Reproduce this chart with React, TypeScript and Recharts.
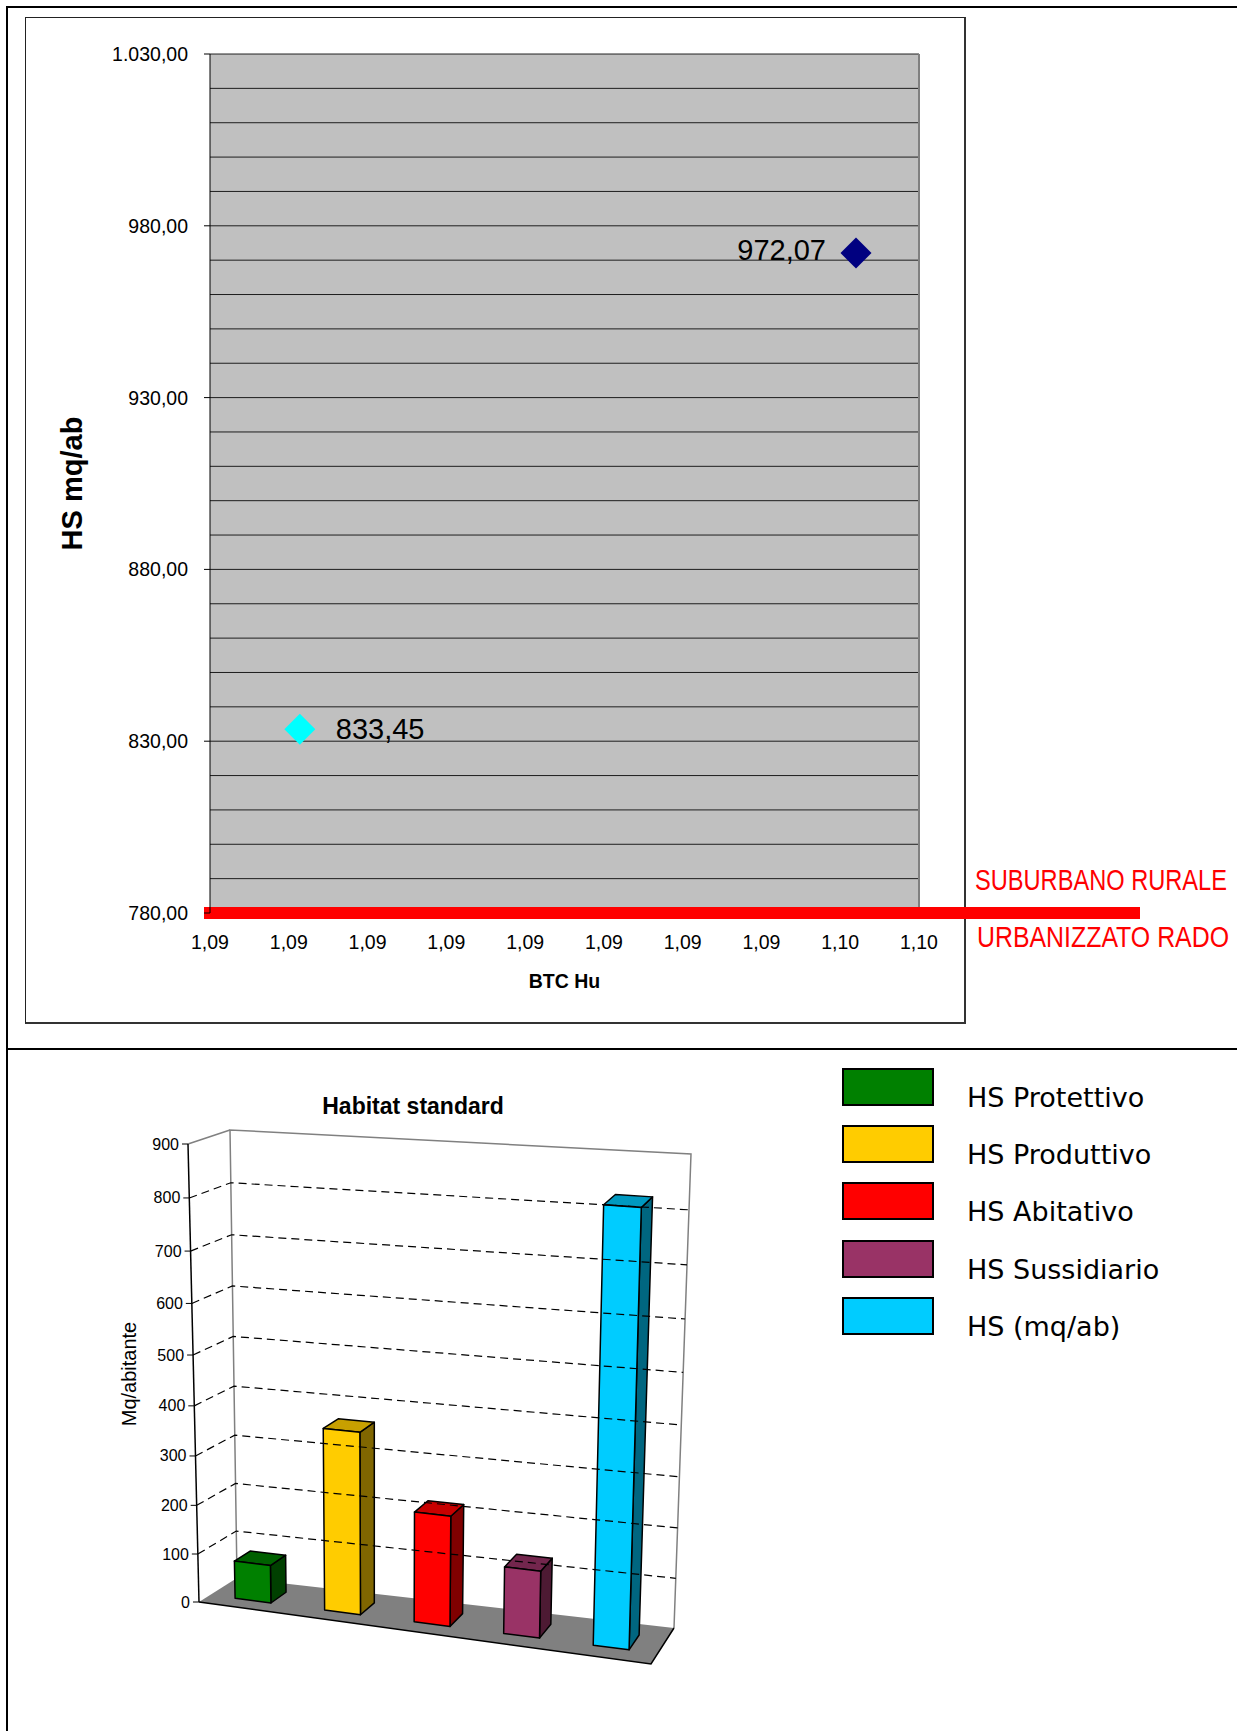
import React from "react";
import {
  Bar,
  BarChart,
  CartesianGrid,
  Label,
  Legend,
  ReferenceArea,
  ReferenceLine,
  Scatter,
  ScatterChart,
  XAxis,
  YAxis,
} from "recharts";

/* ---------- top chart: BTC Hu vs HS (mq/ab) ---------- */
const btcHuValues = [1.09157, 1.0951];
const hsPointValues = [833.45, 972.07];
const pointColors = ["#00FFFF", "#000080"];

const xTicks = [1.091, 1.0915, 1.092, 1.0925, 1.093, 1.0935, 1.094, 1.0945, 1.095, 1.0955];
const xTickLabels = ["1,09", "1,09", "1,09", "1,09", "1,09", "1,09", "1,09", "1,09", "1,10", "1,10"];

const yGridTicks = [
  780, 790, 800, 810, 820, 830, 840, 850, 860, 870, 880, 890, 900, 910, 920, 930, 940, 950, 960,
  970, 980, 990, 1000, 1010, 1020, 1030,
];
const yLabelledTicks = [780, 830, 880, 930, 980, 1030];
const yTickLabels = ["780,00", "830,00", "880,00", "930,00", "980,00", "1.030,00"];

const hsThreshold = 780;
const thresholdLabels = ["SUBURBANO RURALE", "URBANIZZATO RADO"];

/* ---------- bottom chart: Habitat standard ---------- */
const hsCategories = ["HS Protettivo", "HS Produttivo", "HS Abitativo", "HS Sussidiario", "HS (mq/ab)"];
const hsValues = [78, 368, 222, 134, 833.45];
const hsTicks = [0, 100, 200, 300, 400, 500, 600, 700, 800, 900];

const frontColors = ["#008000", "#FFCC00", "#FF0000", "#993366", "#00CCFF"];
const topColors = ["#006000", "#C8A000", "#C80000", "#73264D", "#0099C0"];
const sideColors = ["#004000", "#806600", "#800000", "#4D1A33", "#006680"];

const FONT = "'Liberation Sans', Arial, sans-serif";

function fmtComma(v: number) {
  return v.toFixed(2).replace(".", ",");
}

function DiamondPoint(props: any) {
  const { cx, cy, fill, payload, side } = props;
  if (cx == null || cy == null) return <g />;
  const r = 15.5;
  const pts = `${cx},${cy - r} ${cx + r},${cy} ${cx},${cy + r} ${cx - r},${cy}`;
  const right = side === "right";
  return (
    <g>
      <polygon points={pts} fill={fill} />
      <text
        x={right ? cx + 36 : cx - 30}
        y={right ? cy : cy - 3}
        textAnchor={right ? "start" : "end"}
        dominantBaseline="central"
        fontSize={29}
        fill="#000"
        fontFamily={FONT}
      >
        {fmtComma(payload.y)}
      </text>
    </g>
  );
}

function HsTick(props: any) {
  const { x, y, payload } = props;
  const i = yLabelledTicks.indexOf(payload.value);
  if (i < 0) return <g />;
  return (
    <g>
      <line x1={x + 16} x2={x + 22} y1={y} y2={y} stroke="#000" />
      <text x={x} y={y} textAnchor="end" dominantBaseline="central" fontSize={19.5} fill="#000" fontFamily={FONT}>
        {yTickLabels[i]}
      </text>
    </g>
  );
}

// red threshold bar, runs out past the plot towards the zone labels
function ThresholdLine(props: any) {
  const { x1, y1, x2 } = props;
  const sx = 0.8;
  const txt = {
    x: 0,
    y: 0,
    dominantBaseline: "central" as const,
    fontSize: 30,
    fill: "#FF0000",
    fontFamily: FONT,
    textLength: 252 / sx,
    lengthAdjust: "spacingAndGlyphs" as const,
  };
  return (
    <g>
      <line x1={x1 - 6} x2={x2 + 221} y1={y1} y2={y1} stroke="#FF0000" strokeWidth={12} />
      <g transform={`translate(${x2 + 56}, ${y1 - 33}) scale(${sx}, 1)`}>
        <text {...txt}>{thresholdLabels[0]}</text>
      </g>
      <g transform={`translate(${x2 + 58}, ${y1 + 24}) scale(${sx}, 1)`}>
        <text {...txt}>{thresholdLabels[1]}</text>
      </g>
    </g>
  );
}

/* ---------- fake 3D projection for the column chart ---------- */
type Pt = [number, number];
// flat plot area used by recharts scales
const PL = 200;
const PT = 100;
const PW = 537;
const PH = 481;
// screen corners of the 3D box (chart-local)
const C: Record<string, Pt> = {
  flb: [199, 552],
  flt: [188, 94],
  frb: [651, 614],
  frt: [665, 129],
  blb: [237, 528],
  blt: [230, 80],
  brb: [674, 578],
  brt: [691, 104],
};
const lerp = (a: Pt, b: Pt, k: number): Pt => [a[0] + (b[0] - a[0]) * k, a[1] + (b[1] - a[1]) * k];
// slight perspective squeeze: value steps shrink towards the bottom
const persp = (t: number) => t / (1 + 0.068 * (1 - t));
function project(u: number, t: number, d: number): Pt {
  const k = persp(t);
  const front = lerp(lerp(C.flb, C.frb, u), lerp(C.flt, C.frt, u), k);
  const back = lerp(lerp(C.blb, C.brb, u), lerp(C.blt, C.brt, u), k);
  return lerp(front, back, d);
}
const flatU = (px: number) => (px - PL) / PW;
const flatT = (py: number) => (PT + PH - py) / PH;
const poly = (pts: Pt[]) => pts.map((p) => `${p[0]},${p[1]}`).join(" ");

function Column3D(props: any) {
  const { x, y, width, height, index } = props;
  if (x == null || width == null) return <g />;
  const u0 = flatU(x) - 0.004;
  const u1 = flatU(x + width) - 0.004;
  const t1 = flatT(y);
  const t0 = flatT(y + height);
  const d0 = 0.29;
  const d1 = 0.71;
  const front = [project(u0, t0, d0), project(u1, t0, d0), project(u1, t1, d0), project(u0, t1, d0)];
  const side = [project(u1, t0, d0), project(u1, t0, d1), project(u1, t1, d1), project(u1, t1, d0)];
  const top = [project(u0, t1, d0), project(u1, t1, d0), project(u1, t1, d1), project(u0, t1, d1)];
  return (
    <g stroke="#000" strokeWidth={1.5} strokeLinejoin="round">
      <polygon points={poly(side)} fill={sideColors[index]} />
      <polygon points={poly(top)} fill={topColors[index]} />
      <polygon points={poly(front)} fill={frontColors[index]} />
    </g>
  );
}

function Walls(props: any) {
  const { x, y, width, height } = props;
  if (x == null) return <g />;
  const u0 = flatU(x);
  const u1 = flatU(x + width);
  const tt = flatT(y);
  const tb = flatT(y + height);
  const floor = [project(u0, tb, 0), project(u1, tb, 0), project(u1, tb, 1), project(u0, tb, 1)];
  const back = [project(u0, tb, 1), project(u0, tt, 1), project(u1, tt, 1), project(u1, tb, 1)];
  return (
    <g>
      <polygon points={poly(floor)} fill="#808080" stroke="none" />
      <polyline points={poly(back)} fill="none" stroke="#808080" strokeWidth={1.5} />
      <polyline points={poly([project(u0, tt, 0), project(u0, tt, 1)])} fill="none" stroke="#808080" strokeWidth={1.5} />
      <polyline points={poly([floor[0], floor[1], floor[2]])} fill="none" stroke="#000" strokeWidth={1.5} />
      <polyline points={poly([project(u0, tb, 0), project(u0, tt, 0)])} fill="none" stroke="#000" strokeWidth={1.5} />
    </g>
  );
}

function HabitatTick(props: any) {
  const { y, payload } = props;
  const t = flatT(y);
  const a = project(0, t, 0);
  const v = payload.value;
  const dashed = v > hsTicks[0] && v < hsTicks[hsTicks.length - 1];
  return (
    <g>
      {dashed && (
        <polyline
          points={poly([a, project(0, t, 1), project(1, t, 1)])}
          fill="none"
          stroke="#000"
          strokeWidth={1.2}
          strokeDasharray="8 5"
        />
      )}
      <line x1={a[0] - 6} x2={a[0]} y1={a[1]} y2={a[1]} stroke="#000" />
      <text x={a[0] - 9} y={a[1]} textAnchor="end" dominantBaseline="central" fontSize={16} fill="#000" fontFamily={FONT}>
        {v}
      </text>
    </g>
  );
}

function HabitatLegend() {
  return (
    <div style={{ position: "relative", width: 390, height: 290 }}>
      {hsCategories.map((name, i) => (
        <div key={name} style={{ position: "absolute", left: 0, top: i * 57.2, height: 57, width: 390 }}>
          <div
            style={{
              position: "absolute",
              left: 0,
              top: 0,
              width: 92,
              height: 38,
              boxSizing: "border-box",
              border: "2px solid #000",
              background: frontColors[i],
            }}
          />
          <div
            style={{
              position: "absolute",
              left: 125,
              top: 29,
              transform: "translateY(-50%)",
              fontFamily: "'DejaVu Sans', sans-serif",
              fontSize: 27,
              color: "#000",
              whiteSpace: "nowrap",
              lineHeight: 1,
            }}
          >
            {name}
          </div>
        </div>
      ))}
    </div>
  );
}

export default function App() {
  const points = btcHuValues.map((x, i) => ({ x, y: hsPointValues[i] }));
  const columns = hsCategories.map((name, i) => ({ name, value: hsValues[i] }));

  return (
    <div style={{ position: "absolute", left: 0, top: 0, width: 1237, height: 1731, background: "#fff", fontFamily: FONT }}>
      {/* page frame */}
      <div style={{ position: "absolute", left: 6, top: 6, width: 1231, height: 2, background: "#000" }} />
      <div style={{ position: "absolute", left: 6, top: 6, width: 2, height: 1725, background: "#000" }} />
      <div style={{ position: "absolute", left: 6, top: 1048, width: 1231, height: 2, background: "#000" }} />
      {/* chart box */}
      <div
        style={{
          position: "absolute",
          left: 25,
          top: 17,
          width: 941,
          height: 1007,
          boxSizing: "border-box",
          borderTop: "1px solid #222",
          borderLeft: "1px solid #222",
          borderRight: "2px solid #333",
          borderBottom: "2px solid #333",
        }}
      />

      <div style={{ position: "absolute", left: 0, top: 0 }}>
        <ScatterChart width={1237} height={1040} margin={{ top: 54, right: 318, bottom: 47, left: 0 }}>
          <CartesianGrid vertical={false} stroke="#000" strokeOpacity={0.85} fill="#C0C0C0" fillOpacity={1} />
          <XAxis
            type="number"
            dataKey="x"
            domain={[xTicks[0], xTicks[xTicks.length - 1]]}
            ticks={xTicks}
            interval={0}
            tickFormatter={(_v: number, i: number) => xTickLabels[i]}
            axisLine={false}
            tickLine={false}
            tickSize={0}
            tickMargin={22}
            height={80}
            tick={{ fontSize: 19.5, fill: "#000", fontFamily: FONT }}
          >
            <Label
              content={(p: any) => (
                <text
                  x={p.viewBox.x + p.viewBox.width / 2}
                  y={p.viewBox.y + 68}
                  textAnchor="middle"
                  dominantBaseline="central"
                  fontSize={19.5}
                  fontWeight={700}
                  fill="#000"
                  fontFamily={FONT}
                >
                  BTC Hu
                </text>
              )}
            />
          </XAxis>
          <YAxis
            type="number"
            dataKey="y"
            domain={[yGridTicks[0], yGridTicks[yGridTicks.length - 1]]}
            ticks={yGridTicks}
            interval={0}
            width={210}
            tickSize={6}
            tickMargin={16}
            tickLine={false}
            axisLine={{ stroke: "#000" }}
            tick={<HsTick />}
          >
            <Label
              content={(p: any) => {
                const cy = p.viewBox.y + p.viewBox.height / 2;
                return (
                  <text
                    x={72}
                    y={cy}
                    transform={`rotate(-90, 72, ${cy})`}
                    textAnchor="middle"
                    dominantBaseline="central"
                    fontSize={29}
                    fontWeight={700}
                    fill="#000"
                    fontFamily={FONT}
                  >
                    HS mq/ab
                  </text>
                );
              }}
            />
          </YAxis>
          <ReferenceLine x={xTicks[xTicks.length - 1]} stroke="#808080" strokeWidth={2} />
          <ReferenceLine y={hsThreshold} ifOverflow="visible" shape={<ThresholdLine />} />
          {points.map((p, i) => (
            <Scatter
              key={i}
              data={[p]}
              fill={pointColors[i]}
              isAnimationActive={false}
              shape={(sp: any) => <DiamondPoint {...sp} side={i === 0 ? "right" : "left"} />}
            />
          ))}
        </ScatterChart>
      </div>

      {/* bottom panel */}
      <div
        style={{
          position: "absolute",
          left: 263,
          top: 1106,
          transform: "translate(0, -50%)",
          width: 300,
          textAlign: "center",
          fontSize: 23,
          fontWeight: 700,
          lineHeight: 1,
          color: "#000",
        }}
      >
        Habitat standard
      </div>
      <div style={{ position: "absolute", left: 0, top: 1050 }}>
        <BarChart
          width={1237}
          height={681}
          data={columns}
          margin={{ top: PT, right: 1237 - PL - PW, bottom: 681 - PT - PH, left: PL - 1 }}
          barCategoryGap="30%"
        >
          <ReferenceArea y1={hsTicks[0]} y2={hsTicks[hsTicks.length - 1]} ifOverflow="visible" shape={<Walls />} zIndex={-300} />
          <XAxis dataKey="name" hide />
          <YAxis
            type="number"
            domain={[hsTicks[0], hsTicks[hsTicks.length - 1]]}
            ticks={hsTicks}
            interval={0}
            width={1}
            axisLine={false}
            tickLine={false}
            tick={<HabitatTick />}
          >
            <Label
              content={() => (
                <text
                  x={129}
                  y={324}
                  transform="rotate(-90, 129, 324)"
                  textAnchor="middle"
                  dominantBaseline="central"
                  fontSize={20}
                  fill="#000"
                  fontFamily={FONT}
                >
                  Mq/abitante
                </text>
              )}
            />
          </YAxis>
          <Bar dataKey="value" shape={<Column3D />} isAnimationActive={false} />
          <Legend
            layout="vertical"
            align="center"
            verticalAlign="middle"
            wrapperStyle={{ left: 842, top: 18, width: 390 }}
            content={<HabitatLegend />}
          />
        </BarChart>
      </div>
    </div>
  );
}
